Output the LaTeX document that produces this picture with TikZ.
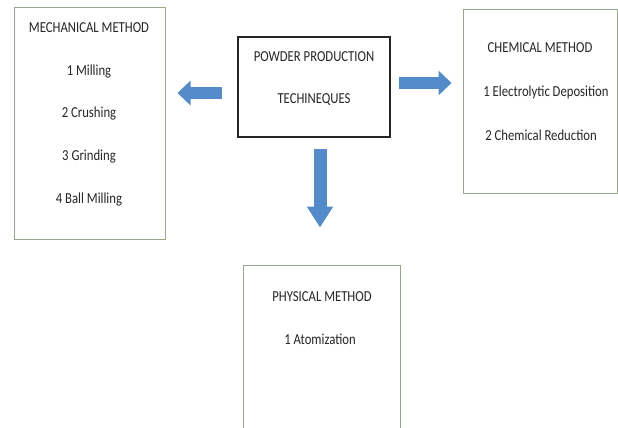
\documentclass[tikz,border=0pt]{standalone}
\usepackage{fontspec}
\setmainfont{Carlito}
\usetikzlibrary{arrows.meta}
\definecolor{boxgreen}{RGB}{150,168,135}
\definecolor{arrowblue}{RGB}{82,138,202}
\newcommand{\tx}[1]{\scalebox{1}[1.2]{#1}}
\tikzset{
  greenbox/.style={draw=boxgreen, line width=1pt, fill=white, rectangle, inner sep=0pt},
  mainbox/.style={draw=black!85, line width=1.2pt, fill=white, rectangle, inner sep=0pt},
  lbl/.style={font=\fontsize{12.7}{14}\selectfont, text=black!85, inner sep=0pt},
  blockarrow/.style={draw=arrowblue, line width=12pt, -{Triangle[length=13pt,width=24pt]}}
}
\begin{document}
\begin{tikzpicture}[x=1pt,y=-1pt]
\useasboundingbox (0,0) rectangle (618,428);
\clip (0,0) rectangle (618,428);
\fill[white] (0,0) rectangle (618,428);

% boxes
\node[greenbox, minimum width=151pt, minimum height=231pt] (mech) at (89.5,123.5) {};
\node[mainbox, minimum width=152pt, minimum height=100pt] (main) at (314,87) {};
\node[greenbox, minimum width=154pt, minimum height=183pt] (chem) at (540,101.5) {};
\node[greenbox, minimum width=157pt, minimum height=180pt] (phys) at (321.5,355) {};

% texts
\node[lbl] (m0) at (89,28) {\tx{MECHANICAL METHOD}};
\node[lbl] (m1) at (89,72) {\tx{1 Milling}};
\node[lbl] (m2) at (89,114) {\tx{2 Crushing}};
\node[lbl] (m3) at (89,157) {\tx{3 Grinding}};
\node[lbl] (m4) at (89,200) {\tx{4 Ball Milling}};

\node[lbl] (p0) at (314,57) {\tx{POWDER PRODUCTION}};
\node[lbl] (p1) at (314,100) {\tx{TECHINEQUES}};

\node[lbl] (c0) at (540,48) {\tx{CHEMICAL METHOD}};
\node[lbl] (c1) at (546,92) {\tx{1 Electrolytic Deposition}};
\node[lbl] (c2) at (541,135) {\tx{2 Chemical Reduction}};

\node[lbl] (h0) at (322,297) {\tx{PHYSICAL METHOD}};
\node[lbl] (h1) at (320,339) {\tx{1 Atomization}};

% arrows
\draw[blockarrow, shorten <=15pt, shorten >=12pt] (main.west |- 0,93) -- (mech.east |- 0,93);
\draw[blockarrow, shorten <=8pt, shorten >=11pt] (main.east |- 0,83) -- (chem.west |- 0,83);
\draw[blockarrow, line width=13pt, -{Triangle[length=21pt,width=25pt]}, shorten <=11pt, shorten >=37pt] (main.south -| 320,0) -- (phys.north -| 320,0);
\end{tikzpicture}
\end{document}
